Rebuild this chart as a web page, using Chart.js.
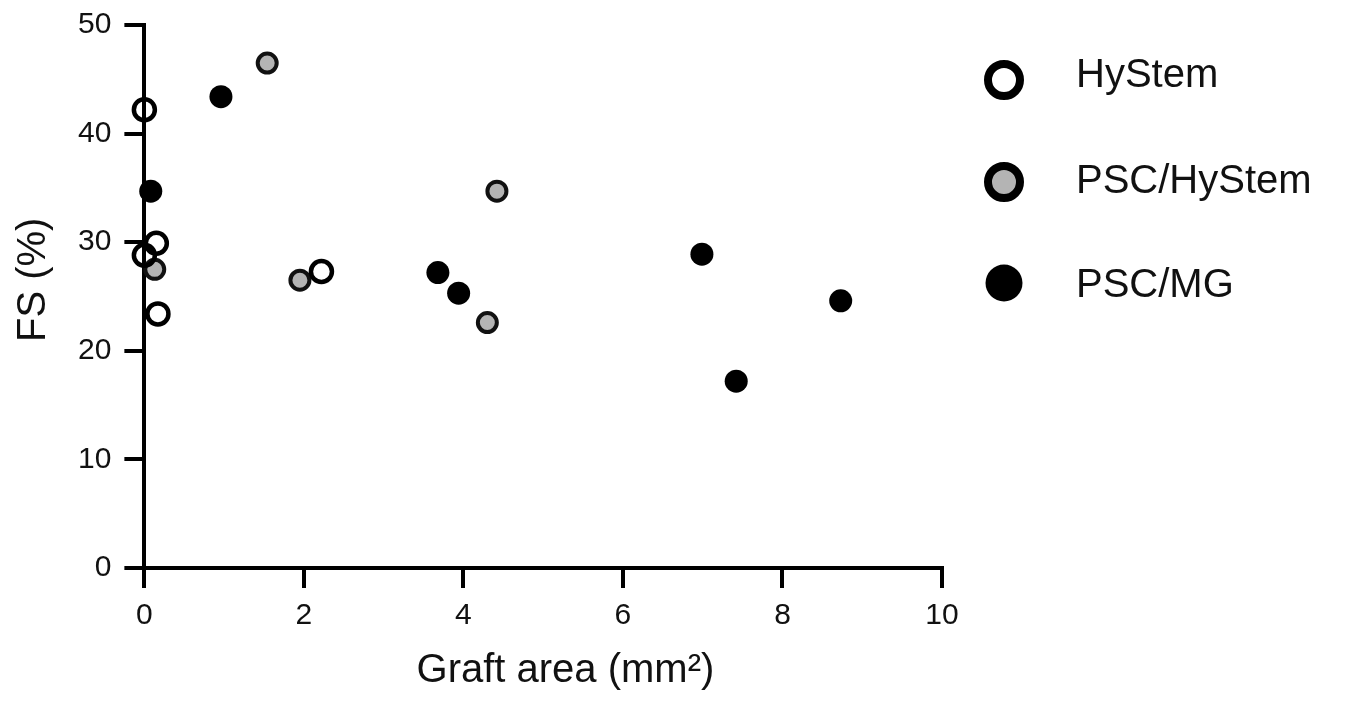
<!DOCTYPE html>
<html>
<head>
<meta charset="utf-8">
<title>FS vs graft area</title>
<script src="https://cdn.jsdelivr.net/npm/chart.js@4/dist/chart.umd.min.js"></script>
<style>
  body { margin: 0; background: #fff; }
</style>
</head>
<body>
<canvas id="scatterChart" width="1368" height="704"></canvas>
<script>
// values
const hystemArea = [0.0, 0.15, 0.0, 0.17, 2.22];
const hystemFS = [42.2, 29.9, 28.8, 23.4, 27.3];

const pscHystemArea = [1.54, 0.13, 1.95, 4.42, 4.30];
const pscHystemFS = [46.5, 27.5, 26.5, 34.7, 22.6];

const pscMgArea = [0.96, 0.08, 3.68, 3.94, 6.99, 8.73, 7.42];
const pscMgFS = [43.4, 34.7, 27.2, 25.3, 28.9, 24.6, 17.2];

const seriesNames = ["HyStem", "PSC/HyStem", "PSC/MG"];
const xTicks = [0, 2, 4, 6, 8, 10];
const yTicks = [0, 10, 20, 30, 40, 50];

const FONT = "'Liberation Sans', Arial, Helvetica, sans-serif";

function toPoints(xs, ys) {
  return xs.map((x, i) => ({ x: x, y: ys[i] }));
}

// legend drawn by hand so the markers can be bigger than in the plot
const sideLegend = {
  id: "sideLegend",
  afterDraw(chart) {
    const ctx = chart.ctx;
    const rows = [
      { y: 80, text: 87, r: 16, lw: 8, fill: "#ffffff" },
      { y: 182, text: 193, r: 16, lw: 8, fill: "#b4b4b4" },
      { y: 283, text: 297, r: 18.5, lw: 0, fill: "#000000" }
    ];
    ctx.save();
    chart.data.datasets.forEach((ds, i) => {
      const row = rows[i];
      ctx.beginPath();
      ctx.arc(1004, row.y, row.r, 0, Math.PI * 2);
      ctx.fillStyle = row.fill;
      ctx.fill();
      if (row.lw) {
        ctx.lineWidth = row.lw;
        ctx.strokeStyle = "#000";
        ctx.stroke();
      }
      ctx.fillStyle = "#111";
      ctx.font = "40px " + FONT;
      ctx.textAlign = "left";
      ctx.textBaseline = "alphabetic";
      ctx.fillText(ds.label, 1076, row.text);
    });
    ctx.restore();
  }
};

const ctx = document.getElementById("scatterChart").getContext("2d");

new Chart(ctx, {
  type: "scatter",
  data: {
    datasets: [
      {
        label: seriesNames[0],
        data: toPoints(hystemArea, hystemFS),
        pointRadius: 10.5,
        borderWidth: 4.5,
        borderColor: "#000",
        backgroundColor: "rgba(255,255,255,0)",
        clip: false
      },
      {
        label: seriesNames[1],
        data: toPoints(pscHystemArea, pscHystemFS),
        pointRadius: 9.5,
        borderWidth: 4,
        borderColor: "#111",
        backgroundColor: "#b4b4b4",
        clip: false
      },
      {
        label: seriesNames[2],
        data: toPoints(pscMgArea, pscMgFS),
        pointRadius: 11.5,
        borderWidth: 0,
        backgroundColor: "#000",
        clip: false
      }
    ]
  },
  options: {
    responsive: false,
    animation: false,
    layout: { padding: { left: 0, right: 426, top: 25, bottom: 0 } },
    plugins: {
      legend: { display: false },
      tooltip: { enabled: false }
    },
    scales: {
      x: {
        type: "linear",
        min: 0,
        max: 10,
        afterBuildTicks: axis => { axis.ticks = xTicks.map(v => ({ value: v })); },
        ticks: {
          color: "#111",
          padding: 10,
          maxRotation: 0,
          font: { family: FONT, size: 30 }
        },
        grid: {
          drawOnChartArea: false,
          drawTicks: true,
          tickLength: 20,
          tickWidth: 4,
          tickColor: "#000",
          lineWidth: 4
        },
        border: { display: true, width: 4, color: "#000" },
        title: {
          display: true,
          text: "    Graft area (mm²)",
          color: "#111",
          font: { family: FONT, size: 40 },
          padding: { top: 3, bottom: 9 }
        }
      },
      y: {
        type: "linear",
        min: 0,
        max: 50,
        afterBuildTicks: axis => { axis.ticks = yTicks.map(v => ({ value: v })); },
        // let the top of the axis sit at the layout padding, not below the "50" label
        afterFit: axis => { axis.paddingTop = 0; },
        ticks: {
          color: "#111",
          padding: 13,
          font: { family: FONT, size: 30 }
        },
        grid: {
          drawOnChartArea: false,
          drawTicks: true,
          tickLength: 20,
          tickWidth: 4,
          tickColor: "#000",
          lineWidth: 4
        },
        border: { display: true, width: 4, color: "#000" },
        title: {
          display: true,
          text: "   FS (%)",
          color: "#111",
          font: { family: FONT, size: 40 },
          padding: { top: 10, bottom: 7 }
        }
      }
    }
  },
  plugins: [sideLegend]
});
</script>
</body>
</html>
